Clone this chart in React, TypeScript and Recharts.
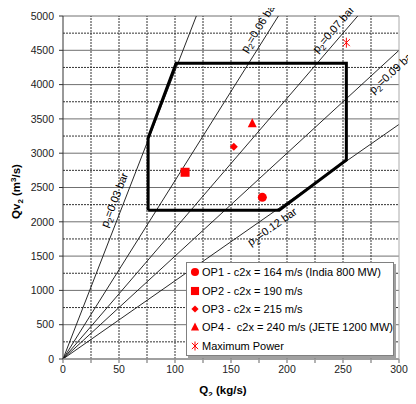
import React from 'react'
import { ComposedChart, XAxis, YAxis, CartesianGrid, ReferenceLine, ReferenceDot, Scatter, Legend, Label } from 'recharts'

// axes
const xTicks = [0, 25, 50, 75, 100, 125, 150, 175, 200, 225, 250, 275, 300]
const yTicks = [0, 500, 1000, 1500, 2000, 2500, 3000, 3500, 4000, 4500, 5000]
const yMinor = [250, 750, 1250, 1750, 2250, 2750, 3250, 3750, 4250, 4750]
const rightTicks = [0, 250, 500, 750, 1000, 1250, 1500, 1750, 2000, 2250, 2500, 2750, 3000, 3250, 3500, 3750, 4000, 4250, 4500, 4750, 5000]

// constant pressure lines: Qv2 = v * Q2
const pressures = ['0.03', '0.06', '0.07', '0.09', '0.12']
const specVolume = [42, 26, 19, 15, 11.4]
const labelAtQ = [54, 183, 248, 287, 181]

// operating envelope
const envelopeQ = [76, 76, 101, 253, 253, 193, 76]
const envelopeQv = [2170, 3220, 4310, 4310, 2900, 2170, 2170]

// operating points
const opNames = [
  'OP1 - c2x = 164 m/s (India 800 MW)',
  'OP2 - c2x = 190 m/s',
  'OP3 - c2x = 215 m/s',
  'OP4 -  c2x = 240 m/s (JETE 1200 MW)',
  'Maximum Power',
]
const opQ = [178, 109, 152.5, 169, 253]
const opQv = [2357, 2722, 3095, 3436, 4611]
const opShapes = ['circle', 'square', 'diamond', 'triangle', 'star']

const X_MAX = 300
const Y_MAX = 5000
const PLOT_W = 336
const PLOT_H = 343
const RED = '#ff0000'
const FONT = 'Arial, "Liberation Sans", sans-serif'

// label placement along the lines (baseline offset in rotated frame)
const labelOffset = [-6, -7, -6, 15, 15]

const marker = (kind: string, cx: number, cy: number, s = 1) => {
  switch (kind) {
    case 'circle':
      return <circle cx={cx} cy={cy} r={4.5 * s} fill={RED} />
    case 'square':
      return <rect x={cx - 4.5 * s} y={cy - 4.5 * s} width={9 * s} height={9 * s} fill={RED} />
    case 'diamond':
      return <polygon points={`${cx},${cy - 4 * s} ${cx + 4 * s},${cy} ${cx},${cy + 4 * s} ${cx - 4 * s},${cy}`} fill={RED} />
    case 'triangle':
      return <polygon points={`${cx},${cy - 5 * s} ${cx + 4.5 * s},${cy + 4 * s} ${cx - 4.5 * s},${cy + 4 * s}`} fill={RED} />
    default:
      return (
        <g stroke={RED} strokeWidth={1}>
          <line x1={cx - 3.5 * s} y1={cy - 3.5 * s} x2={cx + 3.5 * s} y2={cy + 3.5 * s} />
          <line x1={cx + 3.5 * s} y1={cy - 3.5 * s} x2={cx - 3.5 * s} y2={cy + 3.5 * s} />
          <line x1={cx} y1={cy - 5 * s} x2={cx} y2={cy + 5 * s} />
        </g>
      )
  }
}

const lineEnd = (v: number) => (v * X_MAX > Y_MAX ? { x: Y_MAX / v, y: Y_MAX } : { x: X_MAX, y: v * X_MAX })

const envelope = envelopeQ.map((q, i) => ({ x: q, y: envelopeQv[i] }))

const labelData = pressures.map((p, i) => ({
  x: labelAtQ[i],
  y: labelAtQ[i] * specVolume[i],
  p,
  angle: (-Math.atan((specVolume[i] * PLOT_H) / Y_MAX / (PLOT_W / X_MAX)) * 180) / Math.PI,
  off: labelOffset[i],
}))

const lineLabel = (d: any) => (props: any) => (
  <g transform={`translate(${props.cx},${props.cy}) rotate(${d.angle})`}>
    <text x={0} y={d.off} textAnchor="middle" fontSize={11} fontFamily={FONT} fill="#000">
      p<tspan fontSize={8} dy={3}>2</tspan>
      <tspan dy={-3}>={d.p} bar</tspan>
    </text>
  </g>
)

const LegendBox = () => (
  <div
    style={{
      width: 206,
      background: '#fff',
      border: '1px solid #808080',
      boxShadow: '2px 2px 0 #a0a0a0',
      fontFamily: FONT,
      fontSize: 11,
      color: '#000',
    }}
  >
    {opNames.map((n, i) => (
      <div key={n} style={{ height: 18.4, display: 'flex', alignItems: 'center', whiteSpace: 'pre' }}>
        <svg width={15} height={14} style={{ flex: 'none' }}>
          {marker(opShapes[i], 8, 7, 0.9)}
        </svg>
        <span>{n}</span>
      </div>
    ))}
  </div>
)

const YTitle = (props: any) => {
  const { viewBox } = props
  const cx = 12
  const cy = viewBox.y + viewBox.height / 2 + 4
  return (
    <text transform={`translate(${cx},${cy}) rotate(-90)`} textAnchor="middle" fontSize={11.5} fontWeight="bold" fontFamily={FONT} fill="#000">
      Qv<tspan fontSize={8} dy={3}>2</tspan>
      <tspan dy={-3}> (m</tspan>
      <tspan fontSize={8} dy={-4}>3</tspan>
      <tspan dy={4}>/s)</tspan>
    </text>
  )
}

const XTitle = (props: any) => {
  const { viewBox } = props
  const cx = viewBox.x + viewBox.width / 2 - 8
  return (
    <text x={cx} y={394} textAnchor="middle" fontSize={11.5} fontWeight="bold" fontFamily={FONT} fill="#000">
      Q<tspan fontSize={8} dy={3}>2</tspan>
      <tspan dy={-3}> (kg/s)</tspan>
    </text>
  )
}

export default function App() {
  return (
    <div style={{ width: 408, height: 396, marginTop: -8 }}>
      <style>{'.recharts-surface,.recharts-wrapper{overflow:visible!important}'}</style>
      <ComposedChart width={408} height={404} margin={{ top: 16, right: 8, bottom: 0, left: 0 }}>
        <CartesianGrid vertical={false} stroke="#707070" />
        {xTicks.slice(1, -1).map((v) => (
          <ReferenceLine key={'vx' + v} x={v} stroke="#333" strokeDasharray="2 1" />
        ))}
        {yMinor.map((v) => (
          <ReferenceLine key={'hy' + v} y={v} stroke="#333" strokeDasharray="2 1" />
        ))}
        <XAxis
          type="number"
          dataKey="x"
          domain={[0, X_MAX]}
          ticks={xTicks}
          interval={0}
          height={45}
          tickSize={4}
          tickMargin={3}
          tickFormatter={(v: number) => (v % 50 === 0 ? String(v) : '')}
          stroke="#999"
          strokeWidth={1.5}
          tick={{ fill: '#222', fontSize: 10.5, fontFamily: FONT }}
        >
          <Label content={<XTitle />} />
        </XAxis>
        <YAxis
          type="number"
          dataKey="y"
          domain={[0, Y_MAX]}
          ticks={yTicks}
          interval={0}
          width={55}
          tickSize={4}
          tickMargin={5}
          stroke="#333"
          tick={{ fill: '#222', fontSize: 10.5, fontFamily: FONT }}
        >
          <Label content={<YTitle />} />
        </YAxis>
        <YAxis
          yAxisId="r"
          orientation="right"
          type="number"
          domain={[0, Y_MAX]}
          ticks={rightTicks}
          interval={0}
          width={9}
          tickSize={4}
          stroke="#aaa"
          tickFormatter={() => ''}
        />
        {specVolume.map((v, i) => (
          <ReferenceLine
            key={'p' + i}
            segment={[{ x: 0, y: 0 }, lineEnd(v)]}
            stroke="#111"
            strokeWidth={0.9}
          />
        ))}
        {labelData.map((d) => (
          <ReferenceDot key={'l' + d.p} x={d.x} y={d.y} r={0} shape={lineLabel(d)} />
        ))}
        <Scatter
          name="envelope"
          data={envelope}
          line={{ stroke: '#000', strokeWidth: 3 }}
          lineType="joint"
          shape={() => <g />}
          legendType="none"
          isAnimationActive={false}
        />
        {opNames.map((n, i) => (
          <Scatter
            key={n}
            name={n}
            data={[{ x: opQ[i], y: opQv[i] }]}
            shape={(p: any) => marker(opShapes[i], p.cx, p.cy)}
            isAnimationActive={false}
          />
        ))}
        <Legend
          layout="vertical"
          align="center"
          verticalAlign="middle"
          wrapperStyle={{ left: 178, top: 262, width: 208 }}
          content={() => <LegendBox />}
        />
      </ComposedChart>
    </div>
  )
}
